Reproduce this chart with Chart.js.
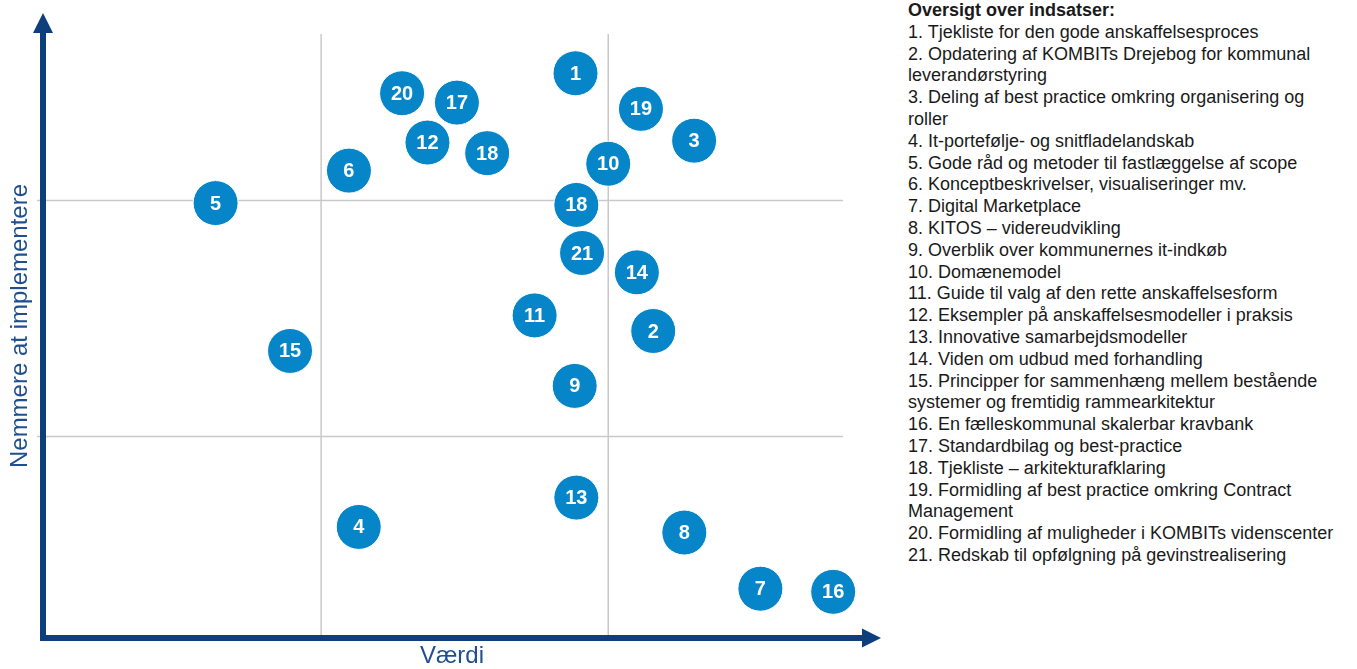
<!DOCTYPE html>
<html>
<head>
<meta charset="utf-8">
<script src="https://cdn.jsdelivr.net/npm/chart.js@4.4.1/dist/chart.umd.min.js"></script>
<style>
  html, body { margin: 0; padding: 0; background: #fff; }
  #wrap { position: absolute; left: 0; top: 0; width: 900px; height: 669px; }
  #legend {
    position: absolute; left: 908px; top: 0;
    font-family: "Liberation Sans", Arial, sans-serif;
    font-size: 18px; line-height: 21.8px; color: #1a1a1a;
    white-space: pre;
  }
  #legend .head { font-weight: bold; }
</style>
</head>
<body>
<div id="wrap"><canvas id="myChart"></canvas></div>
<div id="legend"></div>

<script>
// numbers shown in the circles
const labels = ['1', '20', '17', '19', '3', '12', '18', '10', '6', '5', '18',
                '21', '14', '11', '2', '15', '9', '13', '4', '8', '7', '16'];
// x = Værdi, y = Nemmere at implementere (0-10)
const valueX = [6.51, 4.39, 5.06, 7.31, 7.96, 4.70, 5.43, 6.91, 3.74, 2.11, 6.52,
                6.59, 7.26, 6.01, 7.46, 3.02, 6.50, 6.52, 3.86, 7.84, 8.77, 9.66];
const easeY = [9.05, 8.73, 8.58, 8.48, 7.97, 7.94, 7.77, 7.60, 7.49, 6.97, 6.94,
               6.17, 5.86, 5.17, 4.92, 4.60, 4.04, 2.25, 1.78, 1.69, 0.79, 0.74];
// quadrant dividers
const quadrantX = [3.40, 6.91];
const quadrantY = [3.23, 7.01];

const legendTitle = 'Oversigt over indsatser:';
const legendItems = [
  '1. Tjekliste for den gode anskaffelsesproces',
  '2. Opdatering af KOMBITs Drejebog for kommunal\nleverandørstyring',
  '3. Deling af best practice omkring organisering og\nroller',
  '4. It-portefølje- og snitfladelandskab',
  '5. Gode råd og metoder til fastlæggelse af scope',
  '6. Konceptbeskrivelser, visualiseringer mv.',
  '7. Digital Marketplace',
  '8. KITOS – videreudvikling',
  '9. Overblik over kommunernes it-indkøb',
  '10. Domænemodel',
  '11. Guide til valg af den rette anskaffelsesform',
  '12. Eksempler på anskaffelsesmodeller i praksis',
  '13. Innovative samarbejdsmodeller',
  '14. Viden om udbud med forhandling',
  '15. Principper for sammenhæng mellem bestående\nsystemer og fremtidig rammearkitektur',
  '16. En fælleskommunal skalerbar kravbank',
  '17. Standardbilag og best-practice',
  '18. Tjekliste – arkitekturafklaring',
  '19. Formidling af best practice omkring Contract\nManagement',
  '20. Formidling af muligheder i KOMBITs videnscenter',
  '21. Redskab til opfølgning på gevinstrealisering',
];

const axisColor = '#0e3f7d';
const titleColor = '#1f4f8f';
const fontFamily = '"Liberation Sans", Arial, sans-serif';

// legend text on the right
const legend = document.getElementById('legend');
const head = document.createElement('div');
head.className = 'head';
head.textContent = legendTitle;
legend.appendChild(head);
legendItems.forEach(function(item){
  const d = document.createElement('div');
  d.textContent = item;
  legend.appendChild(d);
});

// grey quadrant lines + the two arrows
const quadrantLines = {
  id: 'quadrantLines',
  beforeDatasetsDraw(chart){
    const {ctx, chartArea, scales} = chart;
    const a = chartArea;
    ctx.save();
    ctx.strokeStyle = '#c9c9c9';
    ctx.lineWidth = 1.5;
    quadrantX.forEach(function(v){
      const x = scales.x.getPixelForValue(v);
      ctx.beginPath();
      ctx.moveTo(x, a.top + 20);
      ctx.lineTo(x, a.bottom);
      ctx.stroke();
    });
    quadrantY.forEach(function(v){
      const y = scales.y.getPixelForValue(v);
      ctx.beginPath();
      ctx.moveTo(a.left - 6, y);
      ctx.lineTo(a.right - 18, y);
      ctx.stroke();
    });

    ctx.strokeStyle = axisColor;
    ctx.fillStyle = axisColor;
    ctx.lineWidth = 6;
    // y axis
    ctx.beginPath();
    ctx.moveTo(a.left, a.bottom + 3);
    ctx.lineTo(a.left, a.top + 19);
    ctx.stroke();
    ctx.beginPath();
    ctx.moveTo(a.left, a.top - 1);
    ctx.lineTo(a.left - 10, a.top + 19);
    ctx.lineTo(a.left + 10, a.top + 19);
    ctx.closePath();
    ctx.fill();
    // x axis
    ctx.beginPath();
    ctx.moveTo(a.left - 3, a.bottom);
    ctx.lineTo(a.right + 2, a.bottom);
    ctx.stroke();
    ctx.beginPath();
    ctx.moveTo(a.right + 20, a.bottom);
    ctx.lineTo(a.right + 1, a.bottom - 9.5);
    ctx.lineTo(a.right + 1, a.bottom + 9.5);
    ctx.closePath();
    ctx.fill();
    ctx.restore();
  }
};

// white numbers inside the circles
const bubbleLabels = {
  id: 'bubbleLabels',
  afterDatasetsDraw(chart){
    const ctx = chart.ctx;
    const meta = chart.getDatasetMeta(0);
    ctx.save();
    ctx.fillStyle = '#ffffff';
    ctx.font = 'bold 20px ' + fontFamily;
    ctx.textAlign = 'center';
    ctx.textBaseline = 'middle';
    meta.data.forEach(function(pt, i){
      ctx.fillText(labels[i], pt.x, pt.y + 1);
    });
    ctx.restore();
  }
};

const points = valueX.map(function(x, i){ return {x: x, y: easeY[i]}; });

const config = {
  type: 'scatter',
  data: {
    datasets: [{
      data: points,
      backgroundColor: '#0785c9',
      borderColor: '#ffffff',
      borderWidth: 1,
      pointRadius: 22.5,
      pointHoverRadius: 22.5,
      clip: false,
    }]
  },
  options: {
    responsive: true,
    maintainAspectRatio: false,
    animation: false,
    events: [],
    layout: {
      autoPadding: false,
      padding: {left: 0, top: 14, right: 39, bottom: 0}
    },
    plugins: {
      legend: {display: false},
      tooltip: {enabled: false}
    },
    scales: {
      x: {
        type: 'linear', min: 0, max: 10,
        grid: {display: false, drawTicks: false},
        border: {display: false},
        ticks: {display: false},
        title: {
          display: true, text: 'Værdi', color: titleColor,
          font: {size: 24, family: fontFamily, lineHeight: 1},
          padding: {top: 6, bottom: 1}
        }
      },
      y: {
        type: 'linear', min: 0, max: 10,
        grid: {display: false, drawTicks: false},
        border: {display: false},
        ticks: {display: false},
        title: {
          display: true, text: 'Nemmere at implementere', color: titleColor,
          font: {size: 24, family: fontFamily, lineHeight: 1},
          padding: {top: 8, bottom: 11}
        }
      }
    }
  },
  plugins: [quadrantLines, bubbleLabels]
};

const myChart = new Chart(document.getElementById('myChart'), config);
</script>
</body>
</html>
